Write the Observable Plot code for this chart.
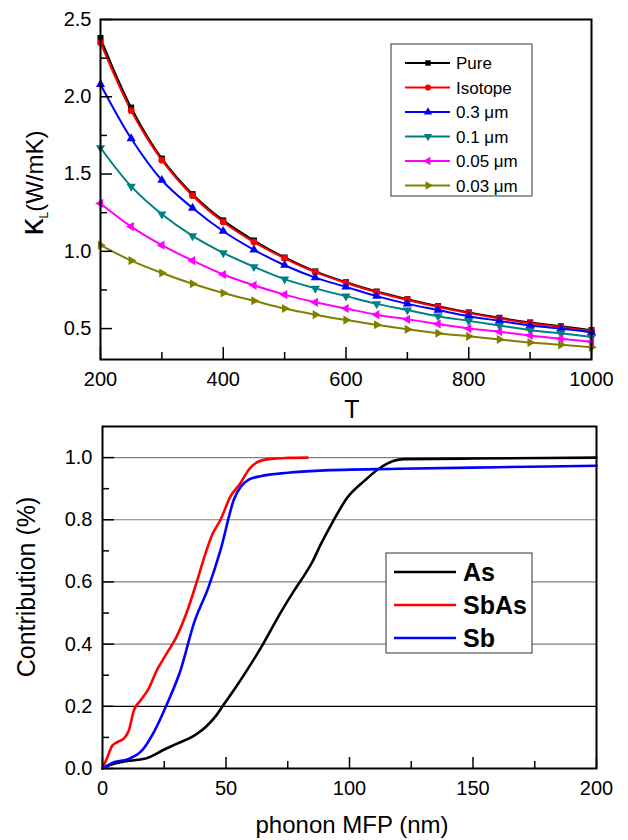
<!DOCTYPE html>
<html>
<head>
<meta charset="utf-8">
<script src="https://cdn.jsdelivr.net/npm/d3@7"></script>
<script src="https://cdn.jsdelivr.net/npm/@observablehq/plot@0.6"></script>
<style>
  html, body { margin: 0; padding: 0; background: #fff; }
  svg { display: block; }
</style>
</head>
<body>
<div id="top"></div>
<div id="bottom"></div>
<script>
// ---------- Top panel data: lattice thermal conductivity vs T ----------
const temps = [200,250,300,350,400,450,500,550,600,650,700,750,800,850,900,950,1000];
const kPure    = [2.38,1.93,1.60,1.37,1.20,1.07,0.96,0.87,0.80,0.74,0.69,0.645,0.605,0.57,0.54,0.515,0.49];
const kIsotope = [2.35,1.91,1.59,1.36,1.19,1.06,0.955,0.865,0.795,0.735,0.685,0.64,0.60,0.565,0.535,0.51,0.485];
const k03um    = [2.08,1.73,1.46,1.28,1.13,1.01,0.91,0.83,0.77,0.71,0.66,0.62,0.58,0.55,0.52,0.50,0.475];
const k01um    = [1.67,1.42,1.24,1.10,0.99,0.90,0.82,0.76,0.71,0.66,0.62,0.58,0.55,0.52,0.49,0.47,0.445];
const k005um   = [1.31,1.16,1.04,0.94,0.85,0.78,0.72,0.67,0.63,0.59,0.56,0.53,0.50,0.48,0.455,0.435,0.415];
const k003um   = [1.04,0.94,0.86,0.79,0.73,0.68,0.63,0.59,0.555,0.525,0.495,0.47,0.45,0.43,0.41,0.395,0.38];
const topNames  = ["Pure","Isotope","0.3 μm","0.1 μm","0.05 μm","0.03 μm"];
const topColors = ["#000000","#ff0000","#0000ff","#008080","#ff00ff","#808000"];
const topSymbols = ["square","circle","triangle","triangle","triangle","triangle"];
const topRotate  = [0,0,0,180,-90,90];
const topSeries = [kPure,kIsotope,k03um,k01um,k005um,k003um];
const yTopMajor = [0.5,1.0,1.5,2.0,2.5];
const yTopMinor = [0.75,1.25,1.75,2.25];
const xTopMajor = [200,400,600,800,1000];
const xTopMinor = [300,500,700,900];

// ---------- Bottom panel data: cumulative contribution vs phonon MFP ----------
const mfpAs   = [0,2,5,10,17,21,24,30,38,42,46,49,53,58,65,72,77,82,85,88,93,99,106,112,118,122,150,200];
const contAs  = [0,0.008,0.016,0.024,0.031,0.044,0.057,0.079,0.11,0.135,0.17,0.205,0.25,0.31,0.40,0.50,0.565,0.625,0.665,0.715,0.79,0.87,0.925,0.965,0.99,0.995,0.997,1.0];
const mfpSbAs  = [0,2,4,6,8.6,10.7,12.7,15.4,18.7,22,26,30,34,38,41.7,44.4,47.8,51.8,55.9,59.2,62.6,68,75,83];
const contSbAs = [0,0.037,0.074,0.085,0.096,0.123,0.187,0.219,0.257,0.316,0.37,0.424,0.50,0.596,0.692,0.752,0.80,0.875,0.918,0.961,0.985,0.996,0.999,1.0];
const mfpSb  = [0,4.6,10.7,16,20.8,26.2,31.6,37,43,47.8,53.2,59.2,64,75,88,120,160,200];
const contSb = [0,0.02,0.031,0.058,0.117,0.209,0.316,0.467,0.585,0.703,0.865,0.929,0.94,0.951,0.958,0.964,0.969,0.974];
const botNames  = ["As","SbAs","Sb"];
const botColors = ["#000000","#ff0000","#0000ff"];
const yBotMajor = [0,0.2,0.4,0.6,0.8,1.0];
const yBotMinor = [0.1,0.3,0.5,0.7,0.9];
const xBotMajor = [0,50,100,150,200];
const xBotMinor = [25,75,125,175];

const FONT = "'Liberation Sans', Arial, sans-serif";

function bigTickLabels(plot) {
  d3.select(plot).selectAll('g[aria-label$="tick label"]')
    .attr("font-size", 20).style("font-size", "20px")
    .selectAll("text").attr("font-size", 20).style("font-size", "20px");
}

// ---------- Top plot ----------
const topRows = topSeries.flatMap((vals, s) => temps.map((t, i) => ({T: t, k: vals[i], s})));
const topMarks = [];
topSeries.forEach((vals, s) => {
  const rows = topRows.filter(d => d.s === s);
  topMarks.push(Plot.line(rows, {x: "T", y: "k", stroke: topColors[s], strokeWidth: 2, curve: "catmull-rom"}));
});
topSeries.forEach((vals, s) => {
  const rows = topRows.filter(d => d.s === s);
  topMarks.push(Plot.dot(rows, {x: "T", y: "k", symbol: topSymbols[s], rotate: topRotate[s], fill: topColors[s], stroke: "none", r: 3.4}));
});

const topPlot = Plot.plot({
  width: 628, height: 424,
  marginLeft: 100, marginRight: 37, marginTop: 19, marginBottom: 65,
  style: {fontFamily: FONT, fontSize: "20px", color: "#000", background: "#fff"},
  x: {domain: [200, 1000]},
  y: {domain: [0.3, 2.5]},
  marks: [
    ...topMarks,
    Plot.axisY(yTopMajor, {tickSize: -12, strokeWidth: 1.5, tickFormat: () => "", label: null}),
    Plot.axisY(yTopMinor, {tickSize: -7, strokeWidth: 1.5, tickFormat: () => "", label: null}),
    Plot.axisY(yTopMajor, {tickSize: 0, tickPadding: 9, tickFormat: d3.format(".1f"), label: null}),
    Plot.axisX(xTopMajor, {tickSize: -12, strokeWidth: 1.5, tickFormat: () => "", label: null}),
    Plot.axisX(xTopMinor, {tickSize: -7, strokeWidth: 1.5, tickFormat: () => "", label: null}),
    Plot.axisX(xTopMajor, {tickSize: 0, tickPadding: 12, tickFormat: d3.format("d"), label: null}),
    Plot.frame({stroke: "#000", strokeWidth: 2})
  ]
});
document.getElementById("top").appendChild(topPlot);
bigTickLabels(topPlot);

// Top axis titles and legend
{
  const svg = d3.select(topPlot);
  const yl = svg.append("text")
    .attr("transform", "translate(43,183) rotate(-90)")
    .attr("text-anchor", "middle")
    .attr("font-family", FONT)
    .attr("fill", "#000");
  yl.append("tspan").attr("font-size", 34).text("κ");
  yl.append("tspan").attr("font-size", 12).attr("dy", 5).text("L");
  yl.append("tspan").attr("font-size", 24).attr("dy", -5).text("(W/mK)");

  svg.append("text").attr("x", 352).attr("y", 418).attr("text-anchor", "middle")
    .attr("font-family", FONT).attr("font-size", 25).attr("fill", "#000").text("T");

  const lg = svg.append("g");
  lg.append("rect").attr("x", 391).attr("y", 44).attr("width", 141).attr("height", 152)
    .attr("fill", "#fff").attr("stroke", "#333").attr("stroke-width", 1);
  const symMap = {square: d3.symbolSquare, circle: d3.symbolCircle, triangle: d3.symbolTriangle};
  topNames.forEach((name, i) => {
    const cy = 63 + i * 24.5;
    lg.append("line").attr("x1", 405).attr("x2", 450).attr("y1", cy).attr("y2", cy)
      .attr("stroke", topColors[i]).attr("stroke-width", 2);
    lg.append("path")
      .attr("d", d3.symbol(symMap[topSymbols[i]], 30)())
      .attr("transform", `translate(428,${cy}) rotate(${topRotate[i]})`)
      .attr("fill", topColors[i]);
    lg.append("text").attr("x", 456).attr("y", cy + 6).attr("text-anchor", "start")
      .attr("font-family", FONT).attr("font-size", 17).attr("fill", "#000").text(name);
  });
}

// ---------- Bottom plot ----------
const botRows = [
  ...mfpAs.map((m, i) => ({m, c: contAs[i], s: 0})),
  ...mfpSbAs.map((m, i) => ({m, c: contSbAs[i], s: 1})),
  ...mfpSb.map((m, i) => ({m, c: contSb[i], s: 2}))
];
const botLines = [0, 1, 2].map(s => Plot.line(botRows.filter(d => d.s === s),
  {x: "m", y: "c", stroke: botColors[s], strokeWidth: 2.6, curve: "monotone-x"}));

const botPlot = Plot.plot({
  width: 628, height: 416,
  marginLeft: 102, marginRight: 32, marginTop: 2, marginBottom: 72,
  style: {fontFamily: FONT, fontSize: "20px", color: "#000", background: "#fff"},
  x: {domain: [0, 200]},
  y: {domain: [0, 1.1]},
  marks: [
    Plot.ruleY(yBotMajor.filter(v => v > 0.3), {stroke: "#7f7f7f", strokeWidth: 1.2}),
    Plot.ruleY(yBotMajor.filter(v => v > 0.1 && v < 0.3), {stroke: "#000", strokeWidth: 1.2}),
    ...botLines,
    Plot.axisY(yBotMajor, {tickSize: -12, strokeWidth: 1.5, tickFormat: () => "", label: null}),
    Plot.axisY(yBotMinor, {tickSize: -7, strokeWidth: 1.5, tickFormat: () => "", label: null}),
    Plot.axisY(yBotMajor, {tickSize: 0, tickPadding: 10, tickFormat: d3.format(".1f"), label: null}),
    Plot.axisX(xBotMajor, {tickSize: -11, strokeWidth: 1.5, tickFormat: () => "", label: null}),
    Plot.axisX(xBotMinor, {tickSize: -7, strokeWidth: 1.5, tickFormat: () => "", label: null}),
    Plot.axisX(xBotMajor, {tickSize: 0, tickPadding: 12, tickFormat: d3.format("d"), label: null}),
    Plot.frame({stroke: "#000", strokeWidth: 2})
  ]
});
document.getElementById("bottom").appendChild(botPlot);
bigTickLabels(botPlot);

{
  const svg = d3.select(botPlot);
  // bottom svg starts at page y = 424
  svg.append("text").attr("transform", "translate(35,163) rotate(-90)")
    .attr("text-anchor", "middle").attr("font-family", FONT).attr("font-size", 25)
    .attr("fill", "#000").text("Contribution (%)");
  svg.append("text").attr("x", 352).attr("y", 409).attr("text-anchor", "middle")
    .attr("font-family", FONT).attr("font-size", 24).attr("fill", "#000").text("phonon MFP (nm)");

  const lg = svg.append("g");
  lg.append("rect").attr("x", 386).attr("y", 129).attr("width", 146).attr("height", 100)
    .attr("fill", "#fff").attr("stroke", "#333").attr("stroke-width", 1);
  botNames.forEach((name, i) => {
    const cy = 148 + i * 33;
    lg.append("line").attr("x1", 394).attr("x2", 456).attr("y1", cy).attr("y2", cy)
      .attr("stroke", botColors[i]).attr("stroke-width", 2.6);
    lg.append("text").attr("x", 463).attr("y", cy + 9).attr("text-anchor", "start")
      .attr("font-family", FONT).attr("font-size", 25).attr("font-weight", "bold")
      .attr("fill", "#000").text(name);
  });
}
</script>
</body>
</html>
